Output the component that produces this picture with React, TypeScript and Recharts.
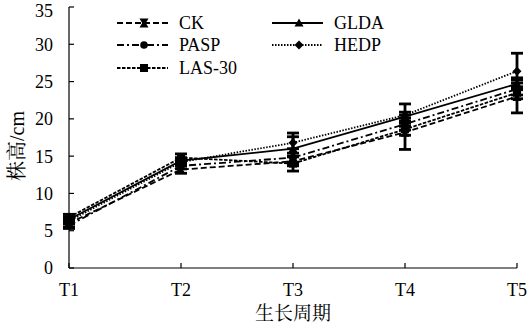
import React from 'react';
import { LineChart, Line, XAxis, YAxis, ErrorBar, Label } from 'recharts';

const categories = ['T1', 'T2', 'T3', 'T4', 'T5'];
const ckValues = [6.0, 13.2, 14.3, 18.2, 23.0];
const ckErrors = [0.5, 0.5, 0.6, 2.3, 2.2];
const paspValues = [5.7, 13.7, 14.8, 19.3, 24.0];
const paspErrors = [0.4, 0.4, 0.6, 0.8, 0.8];
const las30Values = [6.8, 14.8, 14.0, 18.6, 23.5];
const las30Errors = [0.4, 0.5, 1.0, 0.8, 0.8];
const gldaValues = [6.5, 14.4, 16.0, 20.3, 24.7];
const gldaErrors = [0.4, 0.4, 2.1, 0.6, 0.8];
const hedpValues = [6.3, 14.2, 16.8, 20.5, 26.4];
const hedpErrors = [0.4, 0.4, 0.8, 1.5, 2.4];
const yTicks = [0, 5, 10, 15, 20, 25, 30, 35];

const seriesNames = ['CK', 'PASP', 'LAS-30', 'GLDA', 'HEDP'];
const seriesKeys = ['ck', 'pasp', 'las30', 'glda', 'hedp'];
const seriesDash = ['6 3', '7 3 2 3', '3.5 1.5', undefined, '1.5 1.5'];
const seriesShape = ['hourglass', 'circle', 'square', 'triangle', 'diamond'];

const data = categories.map((c, i) => ({
  name: c,
  ck: ckValues[i], ckErr: ckErrors[i],
  pasp: paspValues[i], paspErr: paspErrors[i],
  las30: las30Values[i], las30Err: las30Errors[i],
  glda: gldaValues[i], gldaErr: gldaErrors[i],
  hedp: hedpValues[i], hedpErr: hedpErrors[i],
}));

const FONT = "'Liberation Serif', 'Noto Serif CJK SC', serif";

function markerPath(shape: string, cx: number, cy: number) {
  const s = 4;
  switch (shape) {
    case 'circle':
      return <circle cx={cx} cy={cy} r={3.8} fill="#000" />;
    case 'square':
      return <rect x={cx - s} y={cy - s} width={2 * s} height={2 * s} fill="#000" />;
    case 'triangle':
      return <polygon points={`${cx},${cy - 4.5} ${cx + 4.5},${cy + 3.5} ${cx - 4.5},${cy + 3.5}`} fill="#000" />;
    case 'diamond':
      return <polygon points={`${cx},${cy - 4.5} ${cx + 4.5},${cy} ${cx},${cy + 4.5} ${cx - 4.5},${cy}`} fill="#000" />;
    default:
      return (
        <polygon
          points={`${cx - 4.5},${cy - 4.5} ${cx + 4.5},${cy - 4.5} ${cx + 1.8},${cy} ${cx + 4.5},${cy + 4.5} ${cx - 4.5},${cy + 4.5} ${cx - 1.8},${cy}`}
          fill="#000"
        />
      );
  }
}

const makeDot = (shape: string) => (props: any) => {
  const { cx, cy, index } = props;
  if (cx == null || cy == null) return <g key={index} />;
  return <g key={`${shape}-${index}`}>{markerPath(shape, cx, cy)}</g>;
};

const legendRows = [
  { i: 0, lx: 117, y: 23 },
  { i: 1, lx: 117, y: 45 },
  { i: 2, lx: 117, y: 68 },
  { i: 3, lx: 272, y: 23 },
  { i: 4, lx: 272, y: 45 },
];

const textStyle = { fill: '#000', fontSize: 18, fontFamily: FONT };

export default function App() {
  return (
    <div style={{ position: 'absolute', left: 0, top: 0, width: 529, height: 328, background: '#fff', fontFamily: FONT }}>
      <LineChart width={529} height={328} data={data} margin={{ top: 7, right: 12, left: 0, bottom: 0 }} style={{ fontFamily: FONT }}>
        <XAxis
          dataKey="name"
          height={60}
          stroke="#000"
          tickSize={-5}
          tickMargin={20}
          tick={textStyle}
          axisLine={{ stroke: '#000', strokeWidth: 1.2 }}
          tickLine={{ stroke: '#000', strokeWidth: 1.2 }}
        >
          <Label value="生长周期" position="insideBottom" offset={8} style={{ fill: '#000', fontSize: 19, fontFamily: FONT }} />
        </XAxis>
        <YAxis
          width={69}
          domain={[0, 35]}
          ticks={yTicks}
          stroke="#000"
          tickSize={-5}
          tickMargin={21}
          tick={textStyle}
          axisLine={{ stroke: '#000', strokeWidth: 1.2 }}
          tickLine={{ stroke: '#000', strokeWidth: 1.2 }}
        >
          <Label
            content={() => (
              <text
                transform="translate(17,146) rotate(-90)"
                textAnchor="middle"
                dominantBaseline="central"
                style={{ fill: '#000', fontSize: 20, fontFamily: FONT }}
              >
                株高/cm
              </text>
            )}
          />
        </YAxis>
        {seriesKeys.map((k, i) => (
          <Line
            key={k}
            type="linear"
            dataKey={k}
            name={seriesNames[i]}
            stroke="#000"
            strokeWidth={1.8}
            strokeDasharray={seriesDash[i]}
            dot={makeDot(seriesShape[i])}
            activeDot={false}
            isAnimationActive={false}
          >
            <ErrorBar dataKey={`${k}Err`} width={6} stroke="#000" strokeWidth={2.8} direction="y" />
          </Line>
        ))}
      </LineChart>
      <svg width={529} height={328} style={{ position: 'absolute', left: 0, top: 0, pointerEvents: 'none' }}>
        {legendRows.map((r) => (
          <g key={r.i}>
            <line x1={r.lx} x2={r.lx + 51} y1={r.y} y2={r.y} stroke="#000" strokeWidth={1.8} strokeDasharray={seriesDash[r.i]} />
            {markerPath(seriesShape[r.i], r.lx + 27, r.y)}
            <text x={r.lx + 62} y={r.y} dominantBaseline="central" fontFamily={FONT} style={{ fill: '#000', fontSize: 18, fontFamily: FONT }}>
              {seriesNames[r.i]}
            </text>
          </g>
        ))}
      </svg>
    </div>
  );
}
